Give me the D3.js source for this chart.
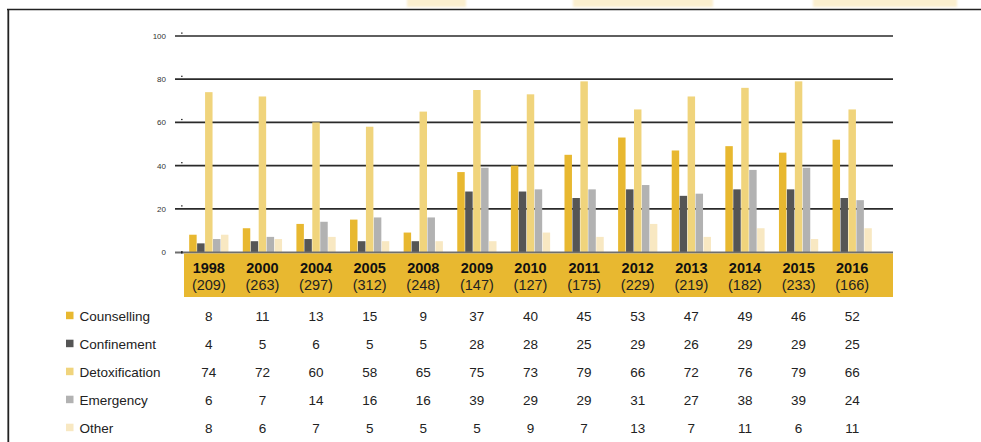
<!DOCTYPE html>
<html>
<head>
<meta charset="utf-8">
<script src="https://cdn.jsdelivr.net/npm/d3@7"></script>
<style>
  html, body { margin: 0; padding: 0; background: #fff; }
  svg { display: block; font-family: "Liberation Sans", Arial, sans-serif; }
</style>
</head>
<body>
<svg id="chart" width="981" height="442"></svg>
<script>
// Survey years and number of respondents per year
const years = ["1998","2000","2004","2005","2008","2009","2010","2011","2012","2013","2014","2015","2016"];
const totals = [209,263,297,312,248,147,127,175,229,219,182,233,166];

// Share (%) by type of service
const counselling   = [8,11,13,15,9,37,40,45,53,47,49,46,52];
const confinement   = [4,5,6,5,5,28,28,25,29,26,29,29,25];
const detoxification = [74,72,60,58,65,75,73,79,66,72,76,79,66];
const emergency     = [6,7,14,16,16,39,29,29,31,27,38,39,24];
const other         = [8,6,7,5,5,5,9,7,13,7,11,6,11];

const seriesNames = ["Counselling","Confinement","Detoxification","Emergency","Other"];
const seriesValues = [counselling, confinement, detoxification, emergency, other];
const seriesColors = ["#e8b830","#555555","#f0d47c","#b2b2b2","#f8e8c2"];

const yTicks = [0,20,40,60,80,100];

const svg = d3.select("#chart");

// soft highlight shapes along the top edge
const defs = svg.append("defs");
defs.append("filter").attr("id","soft")
  .attr("x","-20%").attr("y","-100%").attr("width","140%").attr("height","300%")
  .append("feGaussianBlur").attr("stdDeviation", 1.2);
const blobs = [[407,466],[573,713],[813,957]];
svg.append("g").attr("filter","url(#soft)")
  .selectAll("rect").data(blobs).join("rect")
  .attr("x", d => d[0]).attr("y", -4)
  .attr("width", d => d[1]-d[0]).attr("height", 11)
  .attr("fill", "#fbefcf");

// frame
svg.append("line").attr("x1",7).attr("x2",981).attr("y1",9.5).attr("y2",9.5)
  .attr("stroke","#222").attr("stroke-width",1.6);
svg.append("line").attr("x1",8.3).attr("x2",8.3).attr("y1",9).attr("y2",442)
  .attr("stroke","#222").attr("stroke-width",1.8);

// scales
const x = d3.scaleBand().domain(years).range([182, 879]).paddingInner(0.25).paddingOuter(0.125);
const xs = d3.scaleBand().domain(seriesNames).range([0, x.bandwidth()]).padding(0.06);
const y = d3.scaleLinear().domain([0,100]).range([252, 36]);

const gridX0 = 175, gridX1 = 893;

// gridlines
svg.append("g").selectAll("line").data(yTicks.filter(t => t > 0)).join("line")
  .attr("x1", gridX0).attr("x2", gridX1)
  .attr("y1", d => y(d)).attr("y2", d => y(d))
  .attr("stroke", "#2a2a2a").attr("stroke-width", 1.7);

// small tick marks
svg.append("g").selectAll("rect").data(yTicks).join("rect")
  .attr("x", 181).attr("y", d => d === 0 ? y(d) - 1 : y(d) - 3.5)
  .attr("width", 1.6).attr("height", 1.2)
  .attr("fill", "#333");

// y axis labels
const yAxis = d3.axisLeft(y).tickValues(yTicks).tickSize(0).tickPadding(0);
const yg = svg.append("g").attr("transform", "translate(166,0)").call(yAxis);
yg.select(".domain").remove();
yg.selectAll("text").attr("font-size", 8).attr("fill", "#333")
  .attr("font-family", "'Liberation Sans', Arial, sans-serif");

// bars
const groups = svg.append("g").selectAll("g").data(years).join("g")
  .attr("transform", d => `translate(${x(d)},0)`);
groups.selectAll("rect")
  .data((d, i) => seriesNames.map((s, k) => ({ s, k, v: seriesValues[k][i] })))
  .join("rect")
  .attr("x", d => xs(d.s))
  .attr("width", xs.bandwidth())
  .attr("y", d => y(d.v))
  .attr("height", d => y(0) - y(d.v))
  .attr("fill", d => seriesColors[d.k]);

// zero line
svg.append("line").attr("x1", gridX0).attr("x2", gridX1)
  .attr("y1", y(0) + 0.5).attr("y2", y(0) + 0.5)
  .attr("stroke", "#6e6e6e").attr("stroke-width", 1.8);
svg.append("rect").attr("x", 181).attr("y", y(0) - 0.5).attr("width", 1.6).attr("height", 2).attr("fill", "#222");

// category band with years and respondent counts
svg.append("rect").attr("x", 184).attr("y", 253.5).attr("width", gridX1 - 184).attr("height", 43.5)
  .attr("fill", "#e8b830");
svg.append("g").selectAll("text").data(years).join("text")
  .attr("x", d => x(d) + x.bandwidth() / 2).attr("y", 273)
  .attr("text-anchor", "middle").attr("font-size", 14.5).attr("font-weight", "bold").attr("fill", "#111")
  .text(d => d);
svg.append("g").selectAll("text").data(years).join("text")
  .attr("x", d => x(d) + x.bandwidth() / 2).attr("y", 290)
  .attr("text-anchor", "middle").attr("font-size", 14.5).attr("fill", "#222")
  .text((d, i) => `(${totals[i]})`);

// data table with legend keys
const rowY = d3.scalePoint().domain(seriesNames).range([316, 428]);
const rows = svg.append("g").selectAll("g").data(seriesNames).join("g")
  .attr("transform", d => `translate(0,${rowY(d)})`);
rows.append("rect").attr("x", 66).attr("y", -4.3).attr("width", 7.5).attr("height", 7.5)
  .attr("fill", (d, k) => seriesColors[k]);
rows.append("text").attr("x", 79.5).attr("y", 4.6)
  .attr("font-size", 13.5).attr("fill", "#222").text(d => d);
rows.each(function(s, k) {
  d3.select(this).selectAll("text.val").data(years).join("text")
    .attr("class", "val")
    .attr("x", d => x(d) + x.bandwidth() / 2).attr("y", 4.6)
    .attr("text-anchor", "middle").attr("font-size", 13.5).attr("fill", "#222")
    .text((d, i) => seriesValues[k][i]);
});
</script>
</body>
</html>
